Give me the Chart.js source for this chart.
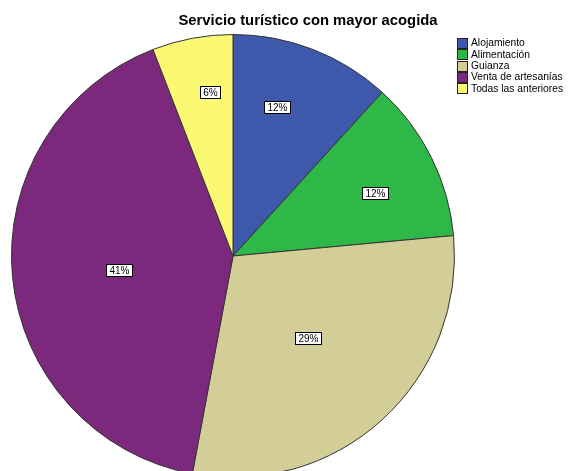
<!DOCTYPE html>
<html>
<head>
<meta charset="utf-8">
<script src="https://cdn.jsdelivr.net/npm/chart.js@4"></script>
<style>
html,body{margin:0;padding:0;background:#fff;overflow:hidden;width:568px;height:471px;}
canvas{display:block;}
</style>
</head>
<body>
<canvas id="c" width="568" height="490"></canvas>
<script>
const chartTitle = "Servicio turístico con mayor acogida";
const categories = ["Alojamiento", "Alimentación", "Guianza", "Venta de artesanías", "Todas las anteriores"];
const counts = [2, 2, 5, 7, 1];
const sliceColors = ["#3E58AC", "#2EB848", "#D3CE97", "#7C287D", "#FBF873"];
// label placement inside each slice (radial fraction, angular fraction)
const labelRadial = [0.70, 0.70, 0.50, 0.52, 0.75];
const labelAngular = [0.39, 0.56, 0.50, 0.49, 0.62];

const total = counts.reduce((a, b) => a + b, 0);

const overlay = {
  id: 'overlay',
  afterDraw(chart) {
    const ctx = chart.ctx;
    ctx.save();
    // title
    ctx.fillStyle = '#000';
    ctx.font = 'bold 14.8px "Liberation Sans", Arial, sans-serif';
    ctx.textAlign = 'center';
    ctx.textBaseline = 'middle';
    ctx.fillText(chartTitle, 308, 21);

    // slice labels
    const meta = chart.getDatasetMeta(0);
    ctx.font = '10px "Liberation Sans", Arial, sans-serif';
    meta.data.forEach((arc, i) => {
      const p = arc.getProps(['x', 'y', 'startAngle', 'endAngle', 'outerRadius'], true);
      const a = p.startAngle + (p.endAngle - p.startAngle) * labelAngular[i];
      const r = p.outerRadius * labelRadial[i];
      const x = p.x + Math.cos(a) * r;
      const y = p.y + Math.sin(a) * r;
      const txt = Math.round(counts[i] / total * 100) + '%';
      const w = Math.round(ctx.measureText(txt).width) + 6;
      const h = 12;
      const bx = Math.round(x - w / 2) + 0.5, by = Math.round(y - h / 2) + 0.5;
      ctx.fillStyle = '#fff';
      ctx.fillRect(bx, by, w, h);
      ctx.strokeStyle = '#000';
      ctx.lineWidth = 1;
      ctx.strokeRect(bx, by, w, h);
      ctx.fillStyle = '#000';
      ctx.textAlign = 'center';
      ctx.textBaseline = 'middle';
      ctx.fillText(txt, bx + w / 2, by + h / 2 + 0.5);
    });

    // legend
    ctx.font = '10.3px "Liberation Sans", Arial, sans-serif';
    ctx.textAlign = 'left';
    ctx.textBaseline = 'middle';
    categories.forEach((c, i) => {
      const yc = 43 + i * 11.3;
      const sx = 457.5, sy = Math.round(yc - 5) + 0.5;
      ctx.fillStyle = sliceColors[i];
      ctx.fillRect(sx, sy, 10, 10);
      ctx.strokeStyle = '#222';
      ctx.strokeRect(sx, sy, 10, 10);
      ctx.fillStyle = '#000';
      ctx.fillText(c, 471, yc + 0.5);
    });
    ctx.restore();
  }
};

new Chart(document.getElementById('c'), {
  type: 'pie',
  data: {
    labels: categories,
    datasets: [{
      data: counts,
      backgroundColor: sliceColors,
      borderColor: '#333',
      borderWidth: 1
    }]
  },
  options: {
    responsive: false,
    animation: false,
    rotation: 0,
    layout: { padding: { left: 11, right: 113, top: 34, bottom: 12 } },
    plugins: {
      legend: { display: false },
      tooltip: { enabled: false },
      title: { display: false }
    }
  },
  plugins: [overlay]
});
</script>
</body>
</html>
